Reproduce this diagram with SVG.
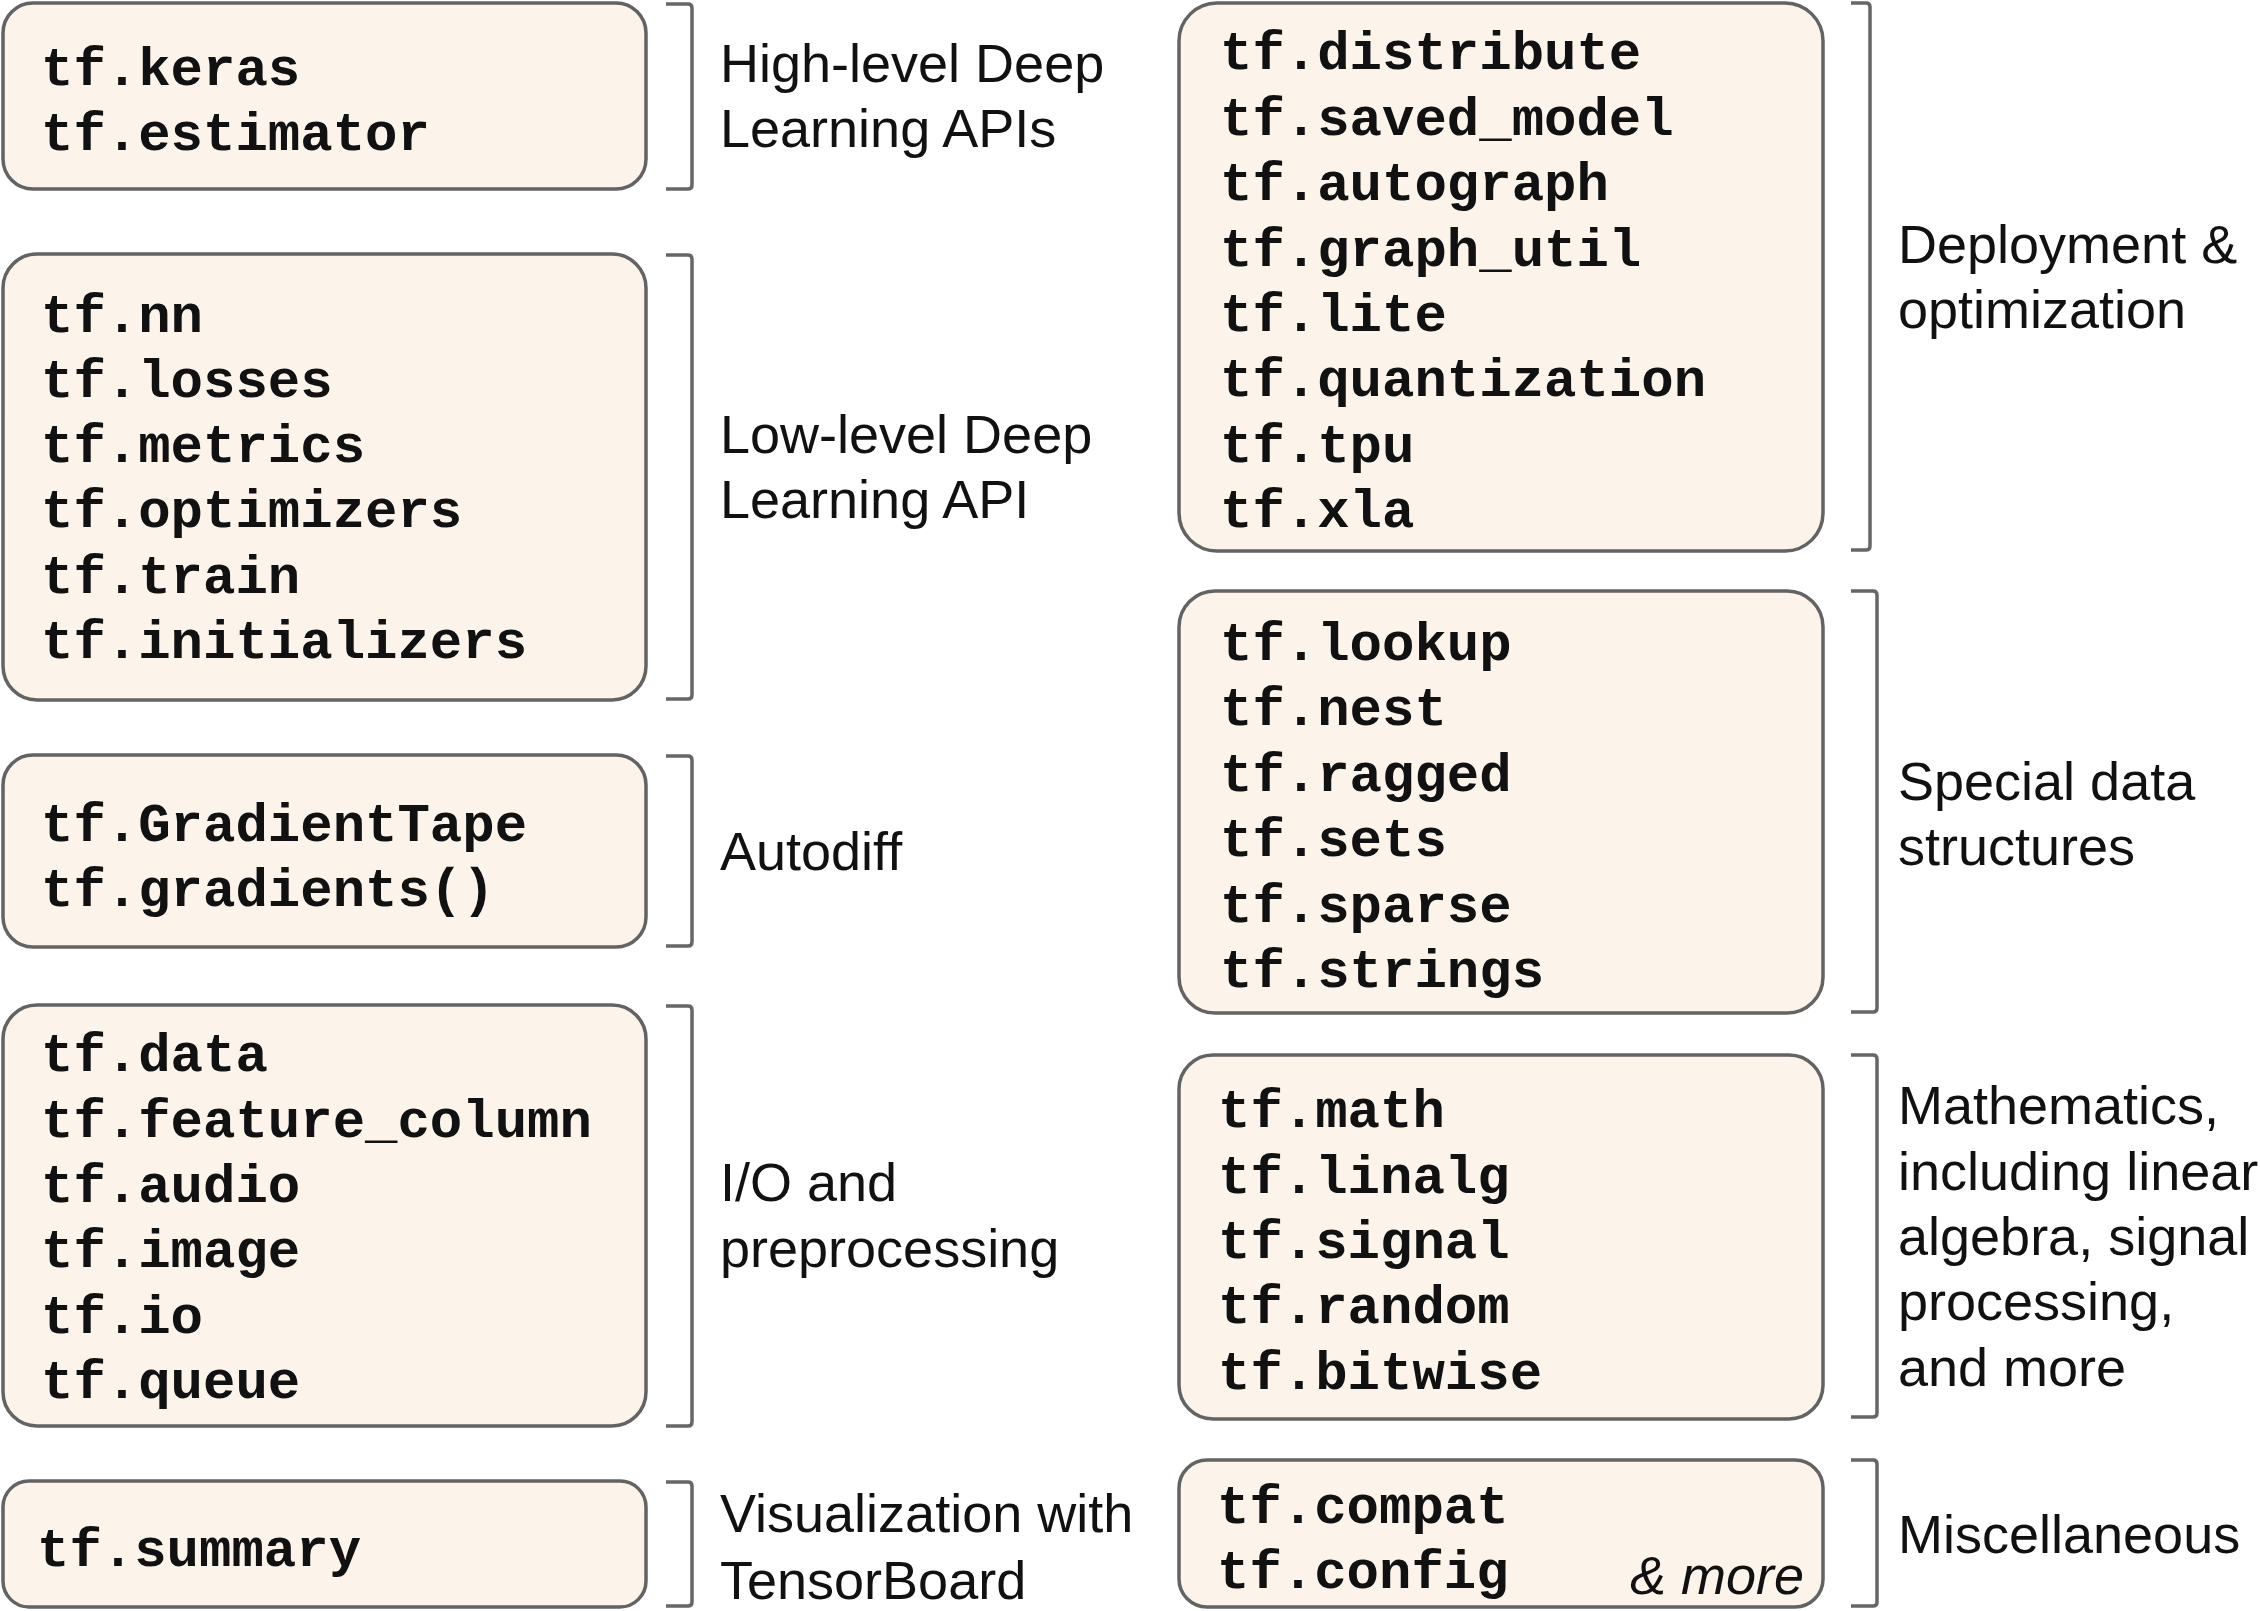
<svg xmlns="http://www.w3.org/2000/svg" width="2260" height="1611" viewBox="0 0 2260 1611">
<style>
.box{fill:#FCF3EB;stroke:#636363;stroke-width:3.5}
.br{fill:none;stroke:#666666;stroke-width:3.5;stroke-linejoin:round}
.m{font-family:"Liberation Mono","Courier New",monospace;font-weight:bold;font-size:54px;fill:#111111}
.t{font-family:"Liberation Sans",Arial,sans-serif;font-size:54px;fill:#111111}
.i{font-family:"Liberation Sans",Arial,sans-serif;font-size:54px;font-style:italic;fill:#111111}
</style>
<rect width="2260" height="1611" fill="#ffffff"/>
<g id="connectors">
<path class="br" d="M666,4 H688 Q692,4 692,8 V185 Q692,189 688,189 H666"/>
<path class="br" d="M666,255 H688 Q692,255 692,259 V695 Q692,699 688,699 H666"/>
<path class="br" d="M666,756 H688 Q692,756 692,760 V942 Q692,946 688,946 H666"/>
<path class="br" d="M666,1006 H688 Q692,1006 692,1010 V1422 Q692,1426 688,1426 H666"/>
<path class="br" d="M666,1482 H688 Q692,1482 692,1486 V1602 Q692,1606 688,1606 H666"/>
<path class="br" d="M1851,3 H1866 Q1870,3 1870,7 V546 Q1870,550 1866,550 H1851"/>
<path class="br" d="M1851,591 H1873 Q1877,591 1877,595 V1008 Q1877,1012 1873,1012 H1851"/>
<path class="br" d="M1851,1055 H1873 Q1877,1055 1877,1059 V1413 Q1877,1417 1873,1417 H1851"/>
<path class="br" d="M1851,1460 H1873 Q1877,1460 1877,1464 V1602 Q1877,1606 1873,1606 H1851"/>
</g>
<g id="n-high">
<rect class="box" x="3" y="3" width="643" height="186" rx="30"/>
<text class="m" x="41" y="85">tf.keras</text>
<text class="m" x="41" y="150">tf.estimator</text>
<text class="t" x="720" y="82">High-level Deep</text>
<text class="t" x="720" y="147">Learning APIs</text>
</g>
<g id="n-low">
<rect class="box" x="3" y="254" width="643" height="446" rx="34"/>
<text class="m" x="41" y="332">tf.nn</text>
<text class="m" x="41" y="397">tf.losses</text>
<text class="m" x="41" y="462">tf.metrics</text>
<text class="m" x="41" y="527">tf.optimizers</text>
<text class="m" x="41" y="593">tf.train</text>
<text class="m" x="41" y="658">tf.initializers</text>
<text class="t" x="720" y="453">Low-level Deep</text>
<text class="t" x="720" y="518">Learning API</text>
</g>
<g id="n-autodiff">
<rect class="box" x="3" y="755" width="643" height="192" rx="30"/>
<text class="m" x="41" y="841">tf.GradientTape</text>
<text class="m" x="41" y="906">tf.gradients()</text>
<text class="t" x="720" y="870">Autodiff</text>
</g>
<g id="n-io">
<rect class="box" x="3" y="1005" width="643" height="421" rx="34"/>
<text class="m" x="41" y="1071">tf.data</text>
<text class="m" x="41" y="1137">tf.feature_column</text>
<text class="m" x="41" y="1202">tf.audio</text>
<text class="m" x="41" y="1267">tf.image</text>
<text class="m" x="41" y="1333">tf.io</text>
<text class="m" x="41" y="1398">tf.queue</text>
<text class="t" x="720" y="1201">I/O and</text>
<text class="t" x="720" y="1267">preprocessing</text>
</g>
<g id="n-vis">
<rect class="box" x="3" y="1481" width="643" height="126" rx="26"/>
<text class="m" x="37" y="1566">tf.summary</text>
<text class="t" x="720" y="1532">Visualization with</text>
<text class="t" x="720" y="1599">TensorBoard</text>
</g>
<g id="n-deploy">
<rect class="box" x="1179" y="3" width="644" height="548" rx="38"/>
<text class="m" x="1220" y="69">tf.distribute</text>
<text class="m" x="1220" y="135">tf.saved_model</text>
<text class="m" x="1220" y="200">tf.autograph</text>
<text class="m" x="1220" y="266">tf.graph_util</text>
<text class="m" x="1220" y="331">tf.lite</text>
<text class="m" x="1220" y="396">tf.quantization</text>
<text class="m" x="1220" y="462">tf.tpu</text>
<text class="m" x="1220" y="527">tf.xla</text>
<text class="t" x="1898" y="263">Deployment &amp;</text>
<text class="t" x="1898" y="328">optimization</text>
</g>
<g id="n-special">
<rect class="box" x="1179" y="591" width="644" height="422" rx="36"/>
<text class="m" x="1220" y="660">tf.lookup</text>
<text class="m" x="1220" y="725">tf.nest</text>
<text class="m" x="1220" y="791">tf.ragged</text>
<text class="m" x="1220" y="856">tf.sets</text>
<text class="m" x="1220" y="922">tf.sparse</text>
<text class="m" x="1220" y="987">tf.strings</text>
<text class="t" x="1898" y="800">Special data</text>
<text class="t" x="1898" y="865">structures</text>
</g>
<g id="n-math">
<rect class="box" x="1179" y="1055" width="644" height="364" rx="34"/>
<text class="m" x="1218" y="1127">tf.math</text>
<text class="m" x="1218" y="1193">tf.linalg</text>
<text class="m" x="1218" y="1258">tf.signal</text>
<text class="m" x="1218" y="1323">tf.random</text>
<text class="m" x="1218" y="1389">tf.bitwise</text>
<text class="t" x="1898" y="1124">Mathematics,</text>
<text class="t" x="1898" y="1190">including linear</text>
<text class="t" x="1898" y="1255">algebra, signal</text>
<text class="t" x="1898" y="1320">processing,</text>
<text class="t" x="1898" y="1386">and more</text>
</g>
<g id="n-misc">
<rect class="box" x="1179" y="1460" width="644" height="147" rx="28"/>
<text class="m" x="1217" y="1523">tf.compat</text>
<text class="m" x="1217" y="1588">tf.config</text>
<text class="i" x="1804" y="1594" text-anchor="end">&amp; more</text>
<text class="t" x="1898" y="1553">Miscellaneous</text>
</g>
</svg>
